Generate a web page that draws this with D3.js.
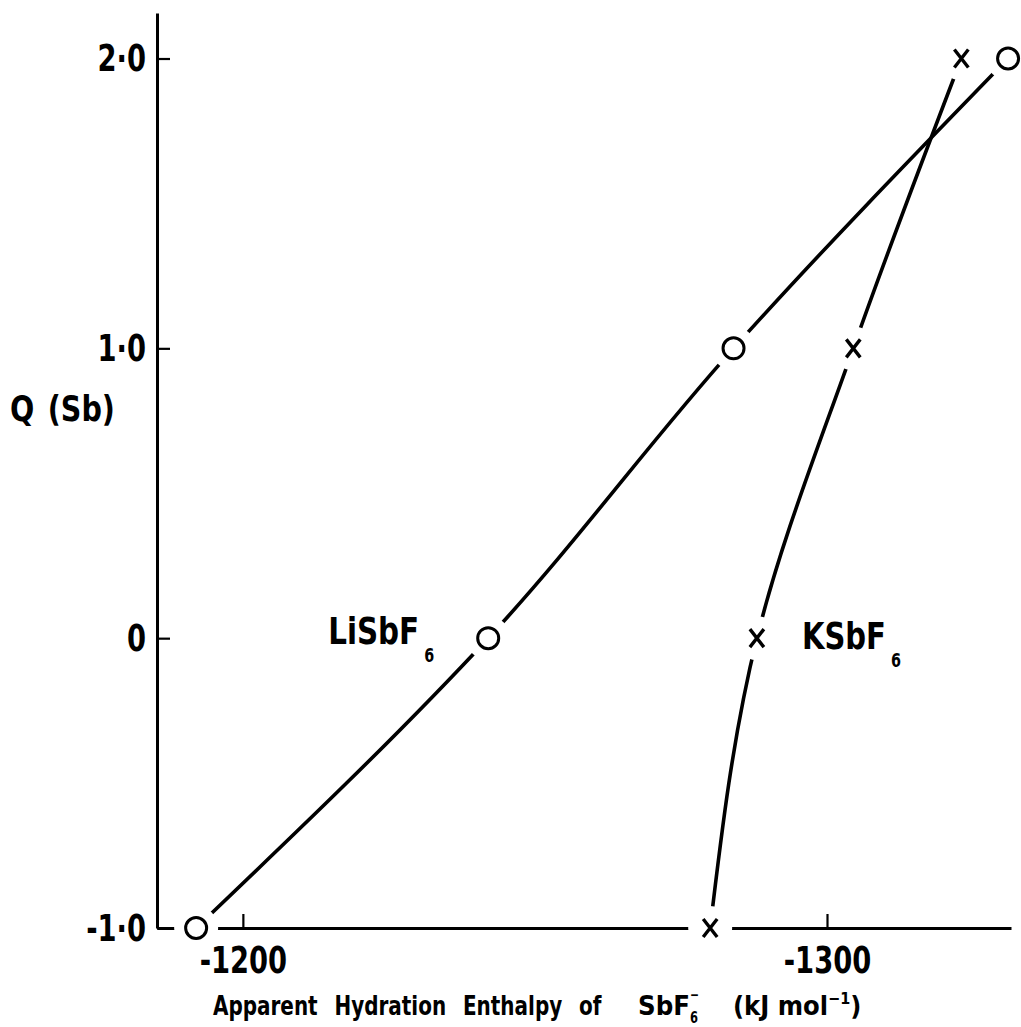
<!DOCTYPE html>
<html>
<head>
<meta charset="utf-8">
<script src="https://cdn.jsdelivr.net/npm/d3@7"></script>
<style>
    body { margin: 0; background: #fff; }
    text { font-family: 'DejaVu Sans Condensed', 'DejaVu Sans', sans-serif; font-weight: bold; fill: #000; }
</style>
</head>
<body>
<div id="chartContainer"></div>
<script>
// Q(Sb) against apparent hydration enthalpy of SbF6-
var qValues = [-1, 0, 1, 2],
    liEnthalpy = [-1192, -1242, -1284, -1331],
    kEnthalpy = [-1280, -1288, -1304.5, -1323],
    xTicks = [-1200, -1300],
    xTickLabels = ['-1200', '-1300'],
    yTicks = [-1, 0, 1, 2],
    yTickLabels = ['-1\u00b70', '0', '1\u00b70', '2\u00b70'];

var width = 1021,
    height = 1027,
    svg = d3.select('#chartContainer').append('svg')
        .attr('width', width)
        .attr('height', height),
    x = d3.scaleLinear().domain([-1185.3, -1331.5]).range([157, 1011]),
    y = d3.scaleLinear().domain([-1, 2.157]).range([928, 13]);

function seriesData(enthalpy) {
    return qValues.map(function(q, i) {
        return {q: q, h: enthalpy[i]};
    });
}

// narrow the glyphs a bit, the original lettering is condensed
function squeeze(sel, f) {
    sel.each(function() {
        var w = this.getComputedTextLength();
        d3.select(this)
            .attr('textLength', w * f)
            .attr('lengthAdjust', 'spacingAndGlyphs');
    });
}

// free text placed at (tx, ty), squeezed horizontally to width w
function label(tx, ty, size, str, w, wordSpacing) {
    var t = svg.append('text')
        .style('font-size', size + 'px')
        .style('word-spacing', (wordSpacing || 0) + 'px')
        .text(str);
    var sx = w ? w / t.node().getBBox().width : 1;
    t.attr('transform', 'translate(' + tx + ',' + ty + ') scale(' + sx + ',1)');
    return t;
}

var li = seriesData(liEnthalpy),
    k = seriesData(kEnthalpy);

// axes, ticks pointing inwards
var xAxis = d3.axisBottom(x)
        .tickValues(xTicks)
        .tickFormat(function(d, i) { return xTickLabels[i]; })
        .tickSizeInner(-14)
        .tickSizeOuter(0)
        .tickPadding(18),
    yAxis = d3.axisLeft(y)
        .tickValues(yTicks)
        .tickFormat(function(d, i) { return yTickLabels[i]; })
        .tickSizeInner(-13)
        .tickSizeOuter(0)
        .tickPadding(11);

var gx = svg.append('g')
    .attr('transform', 'translate(0,' + y(-1) + ')')
    .call(xAxis);
var gy = svg.append('g')
    .attr('transform', 'translate(' + x.range()[0] + ',0)')
    .call(yAxis);

[gx, gy].forEach(function(g) {
    g.attr('font-family', null).attr('font-size', null);
    g.select('.domain').attr('stroke', '#000').attr('stroke-width', 3);
    g.selectAll('.tick line').attr('stroke', '#000').attr('stroke-width', 2.2);
    g.selectAll('.tick text').style('font-size', '38px').call(squeeze, 0.8);
});

// curves
var line = d3.line()
    .x(function(d) { return x(d.h); })
    .y(function(d) { return y(d.q); })
    .curve(d3.curveMonotoneY);

[li, k].forEach(function(s) {
    svg.append('path')
        .datum(s)
        .attr('d', line)
        .attr('fill', 'none')
        .attr('stroke', '#000')
        .attr('stroke-width', 3.6)
        .attr('stroke-linecap', 'round');
});

// gaps around the points (lines and axis are broken there)
svg.selectAll('circle.gap')
    .data(li.concat(k))
    .enter()
    .append('circle')
    .attr('class', 'gap')
    .attr('cx', function(d) { return x(d.h); })
    .attr('cy', function(d) { return y(d.q); })
    .attr('r', 22)
    .attr('fill', '#fff');

svg.selectAll('circle.li')
    .data(li)
    .enter()
    .append('circle')
    .attr('class', 'li')
    .attr('cx', function(d) { return x(d.h); })
    .attr('cy', function(d) { return y(d.q); })
    .attr('r', 10.5)
    .attr('fill', '#fff')
    .attr('stroke', '#000')
    .attr('stroke-width', 3);

svg.selectAll('path.k')
    .data(k)
    .enter()
    .append('path')
    .attr('class', 'k')
    .attr('d', function(d) {
        var cx = x(d.h), cy = y(d.q), w = 7, h = 9;
        return 'M' + (cx - w) + ',' + (cy - h) + 'L' + (cx + w) + ',' + (cy + h) +
            'M' + (cx + w) + ',' + (cy - h) + 'L' + (cx - w) + ',' + (cy + h);
    })
    .attr('fill', 'none')
    .attr('stroke', '#000')
    .attr('stroke-width', 3.4);

// series labels
function formula(tx, ty, main, sub, w) {
    label(tx, ty, 38, main, w);
    label(tx + w + 5, ty + 18, 19, sub, 10);
}
formula(x(liEnthalpy[1]) - 160, y(0) + 6, 'LiSbF', '6', 91);
formula(x(kEnthalpy[1]) + 45, y(0) + 11, 'KSbF', '6', 84);

// axis titles
label(10, 421, 36, 'Q (Sb)', 105, 4);

label(213, 1015, 27, 'Apparent Hydration Enthalpy of', 389, 12);
label(638, 1015, 27, 'SbF', 52);
label(690, 1023, 15, '6', 8);
label(690, 1000, 15, '\u2212', 9);

var unit = svg.append('text')
    .attr('x', 733)
    .attr('y', 1015)
    .style('font-size', '27px');
unit.append('tspan').text('(kJ mol');
unit.append('tspan').attr('dy', -11).style('font-size', '16px').text('\u22121');
unit.append('tspan').attr('dy', 11).text(')');
</script>
</body>
</html>
